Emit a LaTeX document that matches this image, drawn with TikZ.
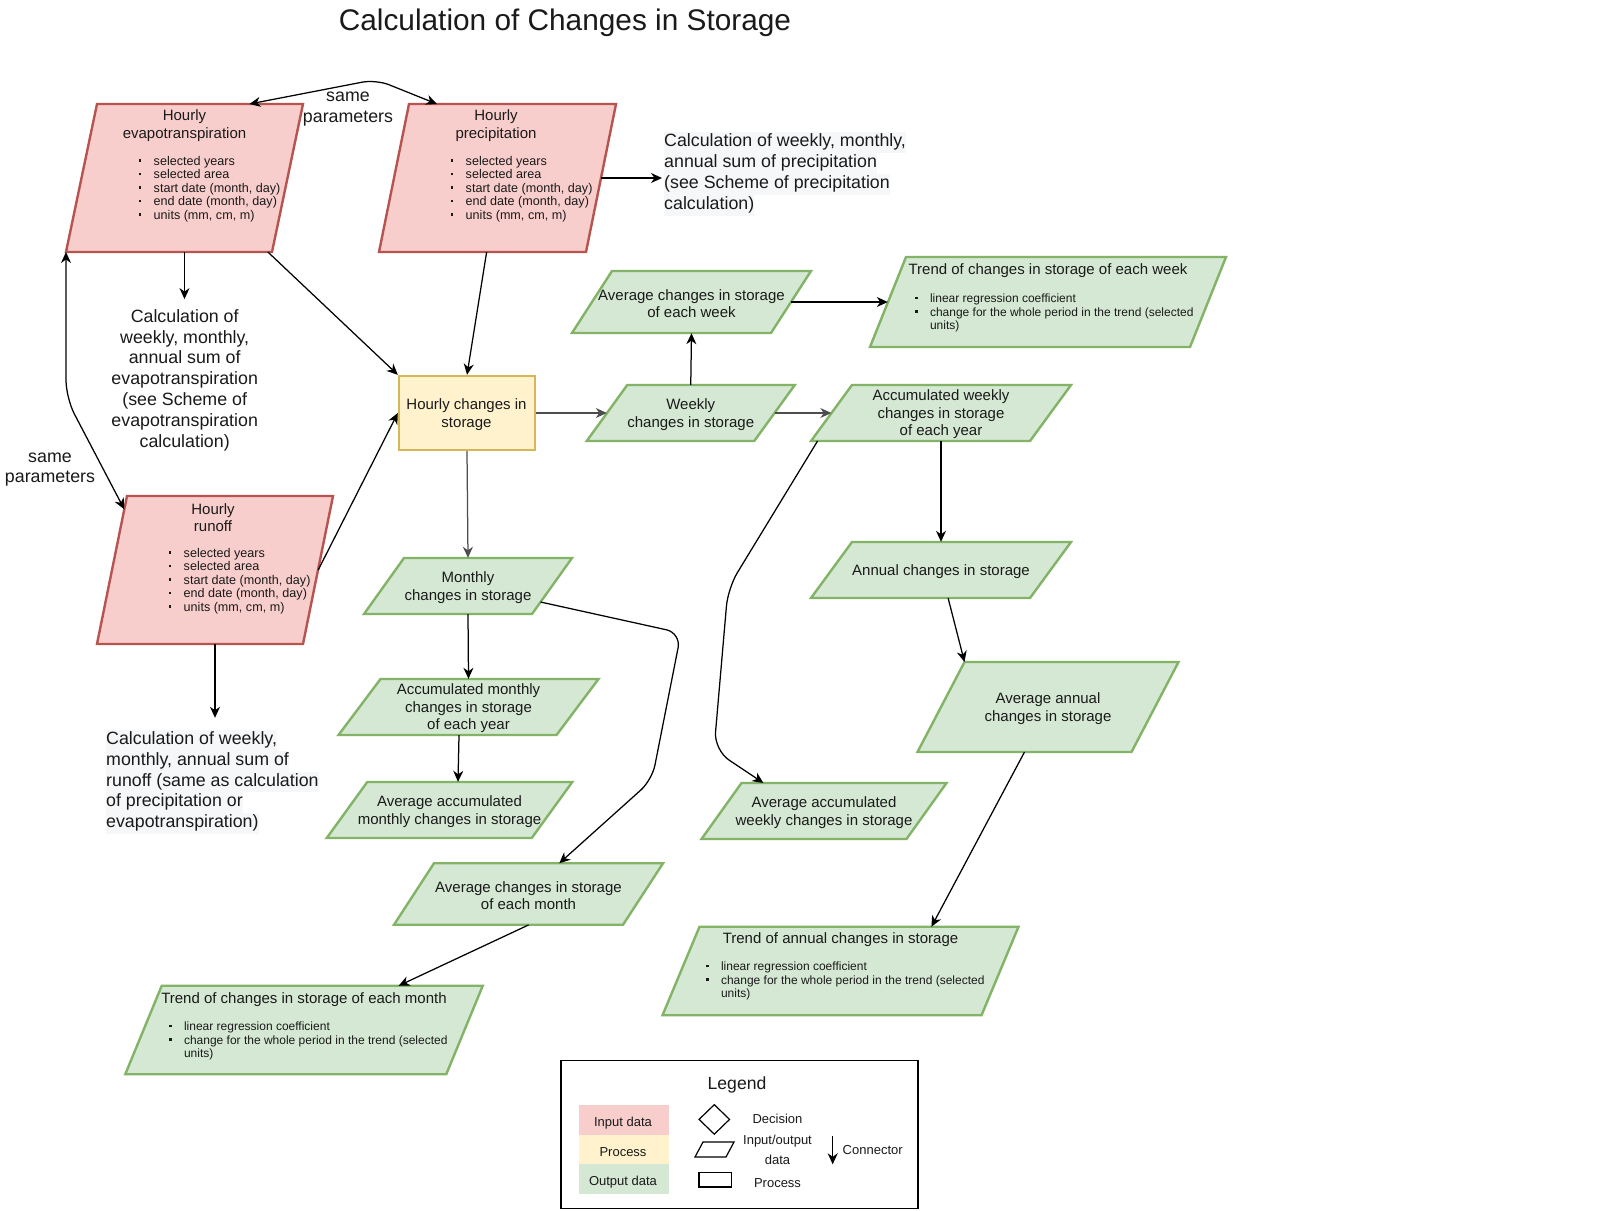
\documentclass[tikz,border=0pt]{standalone}
\usepackage{fontspec}
\setmainfont{Liberation Sans}
\usetikzlibrary{arrows.meta,calc,shapes.geometric}
\definecolor{inF}{HTML}{F8CECC}
\definecolor{inD}{HTML}{B85450}
\definecolor{prF}{HTML}{FFF2CC}
\definecolor{prD}{HTML}{D6B656}
\definecolor{ouF}{HTML}{D5E8D4}
\definecolor{ouD}{HTML}{82B366}
\definecolor{txt}{HTML}{1A1A1A}
\definecolor{hl}{HTML}{F6F7F9}
\definecolor{lgray}{HTML}{4D4D4D}
\setlength{\fboxsep}{0pt}
\newcommand\bul{\makebox[15pt][l]{\raisebox{0.27em}{\rule{2.5pt}{2.5pt}}}}
\newcommand\hlline[1]{\colorbox{hl}{\strut #1}}
% name, cx, cy, w, h, slant, style, text
\newcommand\pgm[8]{%
  \path[#7] (#2-#4/2+#6/2,#3-#5/2) coordinate (#1-tl) -- ++(#4,0) coordinate (#1-tr)
     -- (#2+#4/2-#6/2,#3+#5/2) coordinate (#1-br) -- ++(-#4,0) coordinate (#1-bl) -- cycle;
  \node[inner sep=0pt,minimum width=#4,minimum height=#5] (#1) at (#2,#3) {};
  \node[lbl] (#1-t) at (#2,#3+1.5) {#8};
}
\tikzset{
  inshape/.style={fill=inF,draw=inD,line width=2.4pt},
  outshape/.style={fill=ouF,draw=ouD,line width=2.4pt},
  legshape/.style={draw=black,line width=1.2pt},
  lbl/.style={font=\fontsize{15}{17.5}\selectfont,align=center,inner sep=0pt,text=txt},
  big/.style={font=\fontsize{17.8}{20.8}\selectfont,inner sep=0pt,text=txt},
  small/.style={font=\fontsize{12.6}{13.5}\selectfont,align=left,inner sep=0pt,text=txt},
  smallt/.style={font=\fontsize{12}{13.5}\selectfont,align=left,inner sep=0pt,text=txt},
  leg/.style={font=\fontsize{13}{15}\selectfont,inner sep=0pt,text=txt},
  conn/.style={draw=black,line width=1.25pt,-{Stealth[length=11pt,width=10pt,inset=3.5pt]}},
  conn2/.style={draw=black,line width=1.25pt,{Stealth[length=11pt,width=10pt,inset=3.5pt]}-{Stealth[length=11pt,width=10pt,inset=3.5pt]}},
}
\begin{document}
\begin{tikzpicture}[x=1pt,y=-1pt]
\useasboundingbox (0,0) rectangle (1600,1210);
\fill[white] (0,0) rectangle (1600,1210);

\node[font=\fontsize{29.8}{34}\selectfont,text=txt,inner sep=0pt] (title) at (565,22.5) {Calculation of Changes in Storage};

% ---- input data
\pgm{ET}{184.5}{178}{206}{148}{31}{inshape}{}
\pgm{P}{497.5}{178}{207}{148}{30}{inshape}{}
\pgm{R}{215}{570}{206}{148}{30}{inshape}{}
\node[lbl] (ETt) at (184.5,125.5) {Hourly\\evapotranspiration};
\node[small,anchor=west] (ETb) at (138.5,189) {\bul selected years\\\bul selected area\\\bul start date (month, day)\\\bul end date (month, day)\\\bul units (mm, cm, m)};
\node[lbl] (Pt) at (496,125.5) {Hourly\\precipitation};
\node[small,anchor=west] (Pb) at (450.5,189) {\bul selected years\\\bul selected area\\\bul start date (month, day)\\\bul end date (month, day)\\\bul units (mm, cm, m)};
\node[lbl] (Rt) at (213,517.5) {Hourly\\runoff};
\node[small,anchor=west] (Rb) at (168.5,581) {\bul selected years\\\bul selected area\\\bul start date (month, day)\\\bul end date (month, day)\\\bul units (mm, cm, m)};

% ---- process
\node[draw=prD,fill=prF,line width=2.4pt,minimum width=136,minimum height=74,inner sep=0pt] (H) at (467,413) {};
\node[lbl] (Ht) at (466.5,414.5) {Hourly changes in\\storage};

% ---- output data
\pgm{AW}{691.5}{302}{199}{62}{40}{outshape}{Average changes in storage\\of each week}
\pgm{W}{690.75}{413}{167.5}{56}{40.5}{outshape}{Weekly\\changes in storage}
\pgm{TW}{1048}{302}{320}{90}{36}{outshape}{}
\pgm{ACW}{941}{413}{219}{56}{41}{outshape}{Accumulated weekly\\changes in storage\\of each year}
\pgm{AN}{941}{570}{219}{56}{41}{outshape}{Annual changes in storage}
\pgm{AA}{1048}{707}{214}{90}{47}{outshape}{Average annual\\changes in storage}
\pgm{TA}{840.5}{971}{319}{88.5}{37}{outshape}{}
\pgm{AAW}{824}{811}{205}{56}{40}{outshape}{Average accumulated\\weekly changes in storage}
\pgm{M}{468}{586}{168}{56}{40}{outshape}{Monthly\\changes in storage}
\pgm{ACM}{468.5}{707}{218}{56}{42}{outshape}{Accumulated monthly\\changes in storage\\of each year}
\pgm{AAM}{449.5}{810}{205}{56}{40.5}{outshape}{Average accumulated\\monthly changes in storage}
\pgm{AM}{528.5}{894}{229}{61.5}{40}{outshape}{Average changes in storage\\of each month}
\pgm{TM}{304}{1030}{321}{88.5}{36.5}{outshape}{}

\node[lbl] (TWt) at (1048,271) {Trend of changes in storage of each week};
\node[smallt,anchor=west] (TWb) at (914.8,313) {\bul linear regression coefficient\\\bul change for the whole period in the trend (selected\\\hspace*{15pt}units)};
\node[lbl] (TAt) at (840.5,939.5) {Trend of annual changes in storage};
\node[smallt,anchor=west] (TAb) at (705.8,981) {\bul linear regression coefficient\\\bul change for the whole period in the trend (selected\\\hspace*{15pt}units)};
\node[lbl] (TMt) at (304,999.5) {Trend of changes in storage of each month};
\node[smallt,anchor=west] (TMb) at (168.8,1041) {\bul linear regression coefficient\\\bul change for the whole period in the trend (selected\\\hspace*{15pt}units)};

% ---- free texts
\node[big,align=center] (ETc) at (184.7,380) {Calculation of\\weekly, monthly,\\annual sum of\\evapotranspiration\\(see Scheme of\\evapotranspiration\\calculation)};
\node[big,align=left,anchor=west] (Pc) at (664,174) {\hlline{Calculation of weekly, monthly,}\\\hlline{annual sum of precipitation}\\\hlline{(see Scheme of precipitation}\\\hlline{calculation)}};
\node[big,align=left,anchor=west] (Rc) at (106,782) {\hlline{Calculation of weekly,}\\\hlline{monthly, annual sum of}\\\hlline{runoff (same as calculation}\\\hlline{of precipitation or}\\\hlline{evapotranspiration)}};
\node[big,align=center] (sp1) at (348,109) {same\\parameters};
\node[big,align=center] (sp2) at (50,469.5) {same\\parameters};

% ---- connectors
\coordinate (w1) at (376,79.5);
\draw[conn2,rounded corners=14] ($(ET-tl)!0.74!(ET-tr)$) -- (w1) -- ($(P-tl)!0.135!(P-tr)$);
\coordinate (w2) at (66,398);
\draw[conn2,rounded corners=18] (ET-bl) -- (w2) -- ($(R-tl)!0.09!(R-bl)$);
\draw[conn] (ET.south) -- ($(ET.south |- ETc.north)+(0,-10)$);
\draw[conn] ($(ET-bl)!0.98!(ET-br)$) -- (H.north west);
\draw[conn] ($(P-bl)!0.52!(P-br)$) -- (H.north);
\draw[conn] (P.east) -- ($(P.east -| Pc.west)+(-2,0)$);
\draw[conn] (R.east) -- (H.west);
\draw[conn] (R.south) -- ($(R.south |- Rc.north)+(0,-12)$);
\draw[conn,draw=lgray] (H.east) -- (W.west);
\draw[conn,draw=lgray] (H.south) -- (M.north);
\draw[conn] (W.north) -- (AW.south);
\draw[conn] (AW.east) -- (TW.west);
\draw[conn,draw=lgray] (W.east) -- (ACW.west);
\draw[conn] (ACW.south) -- (AN.north);
\draw[conn] ($(AN-bl)!0.626!(AN-br)$) -- (AA-tl);
\draw[conn] ($(AA-bl)!0.5!(AA-br)$) -- ($(TA-tl)!0.727!(TA-tr)$);
\coordinate (w3) at (728,588);
\coordinate (w4) at (714,750);
\draw[conn,rounded corners=18] ($(ACW-bl)!0.03!(ACW-br)$) -- (w3) -- (w4) -- ($(AAW-tl)!0.107!(AAW-tr)$);
\draw[conn] (M.south) -- (ACM.north);
\draw[conn] ($(ACM.south)+(-9.5,0)$) -- ($(AAM.north)+(8.5,0)$);
\coordinate (w5) at (681,633);
\coordinate (w6) at (652,780);
\draw[conn,rounded corners=15] ($(M-tr)!0.786!(M-br)$) -- (w5) -- (w6) -- ($(AM-tl)!0.547!(AM-tr)$);
\draw[conn] (AM.south) -- ($(TM-tl)!0.738!(TM-tr)$);

% ---- legend
\node[draw=black,line width=1.2pt,minimum width=357,minimum height=148,inner sep=0pt] (LG) at (739.5,1134.2) {};
\node[font=\fontsize{17.6}{20}\selectfont,text=txt,inner sep=0pt] (LGt) at (737,1085) {Legend};
\path[fill=inF] (578.6,1105) rectangle (669.4,1135);
\path[fill=prF] (578.6,1135) rectangle (669.4,1164);
\path[fill=ouF] (578.6,1164) rectangle (669.4,1194);
\node[leg] (LG1) at (623,1123) {Input data};
\node[leg] (LG2) at (623,1152.5) {Process};
\node[leg] (LG3) at (623,1182) {Output data};
\node[diamond,draw=black,line width=1.2pt,minimum width=31,minimum height=30,inner sep=0pt] (LGd) at (714.3,1119.4) {};
\pgm{LGp}{714.5}{1149.5}{31}{15}{8}{legshape}{}
\node[draw=black,line width=1.2pt,minimum width=32.6,minimum height=14.5,inner sep=0pt] (LGr) at (715.3,1179.7) {};
\node[leg] (LGdt) at (777.5,1118.5) {Decision};
\node[leg,align=center,font=\fontsize{13}{20.2}\selectfont] (LGpt) at (777.5,1150) {Input/output\\data};
\node[leg] (LGrt) at (777.5,1182.6) {Process};
\coordinate (LGa) at (832.7,1135.7);
\coordinate (LGb) at (832.7,1164.3);
\draw[conn] (LGa) -- (LGb);
\node[leg] (LGct) at (872.7,1150) {Connector};
\end{tikzpicture}
\end{document}
